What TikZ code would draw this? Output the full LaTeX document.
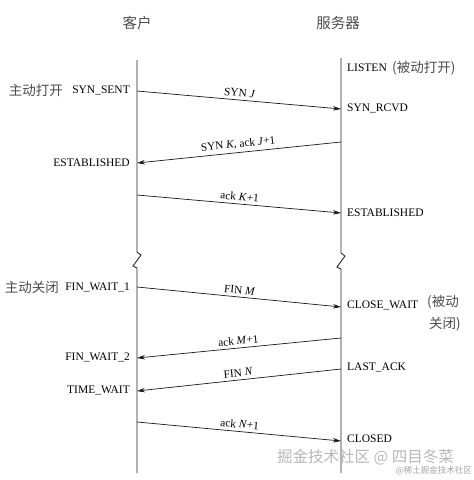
\documentclass[tikz,border=0pt]{standalone}
\usepackage{fontspec}
\setmainfont{Liberation Serif}
\newfontfamily\cjk{Noto Sans CJK SC}
\usetikzlibrary{arrows.meta}
\begin{document}
\begin{tikzpicture}[x=1pt,y=-1pt,
  life/.style={line width=0.9pt,draw=black!85},
  msg/.style={line width=0.7pt,draw=black!90,-{Stealth[length=8pt,width=4.5pt]}},
  st/.style={font=\fontsize{11.5}{12}\selectfont,inner sep=0pt},
  lbl/.style={font=\fontsize{11.3}{12}\selectfont,inner sep=0pt,sloped,above=3pt},
  cn/.style={font=\cjk\fontsize{13.5}{15}\selectfont,text=black!70,inner sep=0pt},
  wm/.style={font=\cjk\fontsize{15.5}{17}\selectfont,text=black!28,inner sep=0pt},
  wms/.style={font=\cjk\fontsize{8.5}{10}\selectfont,text=black!35,inner sep=0pt}]
\useasboundingbox[fill=white] (0,0) rectangle (474,480);

% headers
\node[cn,font=\cjk\fontsize{14.5}{16}\selectfont] (hc) at (137,23) {客户};
\node[cn,font=\cjk\fontsize{14.5}{16}\selectfont] (hs) at (338,23) {服务器};

% lifelines with break marks
\draw[life] (137,60) -- (137,252) -- (141,255) -- (133,266) -- (137,268) -- (137,473);
\draw[life] (341,58) -- (341,253) -- (345,256) -- (337,267) -- (341,269) -- (341,473);

% lifeline points
\coordinate (a1) at (137,91);  \coordinate (b1) at (341,109);
\coordinate (b2) at (341,142); \coordinate (a2) at (137,163);
\coordinate (a3) at (137,195); \coordinate (b3) at (341,213);
\coordinate (a4) at (137,287); \coordinate (b4) at (341,307);
\coordinate (b5) at (341,338); \coordinate (a5) at (137,358);
\coordinate (b6) at (341,369); \coordinate (a6) at (137,391);
\coordinate (a7) at (137,422); \coordinate (b7) at (341,441);

% messages
\draw[msg] (a1) -- node[lbl] (m1) {SYN \textit{J}} (b1);
\draw[msg] (b2) -- node[lbl] (m2) {SYN \textit{K}, ack \textit{J}+1} (a2);
\draw[msg] (a3) -- node[lbl] (m3) {ack \textit{K}+1} (b3);
\draw[msg] (a4) -- node[lbl] (m4) {FIN \textit{M}} (b4);
\draw[msg] (b5) -- node[lbl] (m5) {ack \textit{M}+1} (a5);
\draw[msg] (b6) -- node[lbl] (m6) {FIN \textit{N}} (a6);
\draw[msg] (a7) -- node[lbl] (m7) {ack \textit{N}+1} (b7);

% client states
\node[st,anchor=east] (ss) at (130,90) {SYN\_SENT};
\node[st,anchor=east] (ce) at (130,163) {ESTABLISHED};
\node[st,anchor=east] (fw1) at (130,287) {FIN\_WAIT\_1};
\node[st,anchor=east] (fw2) at (130,357) {FIN\_WAIT\_2};
\node[st,anchor=east] (tw) at (130,390) {TIME\_WAIT};
\node[cn,anchor=east] (ao) at (63,90) {主动打开};
\node[cn,anchor=east] (ac) at (59,287) {主动关闭};

% server states
\node[st,anchor=west] (ls) at (347,68) {LISTEN};
\node[cn,anchor=west] (po) at ([xshift=5pt]ls.east) {(被动打开)};
\node[st,anchor=west] (sr) at (347,108) {SYN\_RCVD};
\node[st,anchor=west] (se) at (347,213) {ESTABLISHED};
\node[st,anchor=west] (cw) at (347,305) {CLOSE\_WAIT};
\node[cn,anchor=west] (pc1) at (427,302) {(被动};
\node[cn,anchor=west] (pc2) at (429,324) {关闭)};
\node[st,anchor=west] (la) at (347,367) {LAST\_ACK};
\node[st,anchor=west] (cl) at (347,439) {CLOSED};

% watermark
\node[wm,anchor=west] (w1) at (277,457) {掘金技术社区 @ 四目冬菜};
\node[wms,anchor=east] (w2) at (472,471) {@稀土掘金技术社区};
\end{tikzpicture}
\end{document}
